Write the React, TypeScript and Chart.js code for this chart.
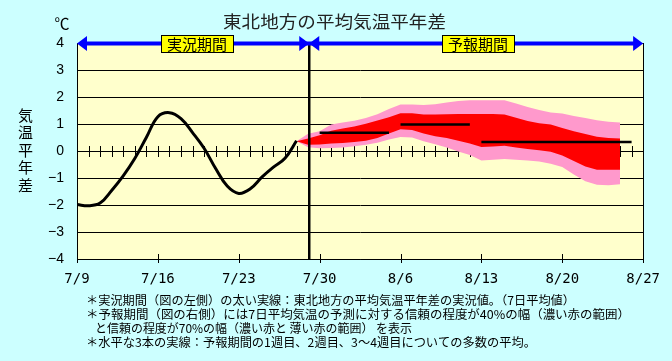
import React, { useEffect, useRef } from "react";
import { Chart, registerables } from "chart.js";

Chart.register(...registerables);

// ---- data ----
const xTickLabels = ["7/9", "7/16", "7/23", "7/30", "8/6", "8/13", "8/20", "8/27"];
const yTickValues = [-4, -3, -2, -1, 0, 1, 2, 3, 4];

// observed 7-day mean anomaly, daily from 7/9 (day 0) to 7/28 (day 19)
const obsDays = [0, 1, 2, 3, 4, 5, 6, 7, 8, 9, 10, 11, 12, 13, 14, 15, 16, 17, 18, 19];
const obsValues = [-1.98, -2.03, -1.93, -1.46, -0.92, -0.28, 0.5, 1.27, 1.42, 1.2, 0.68, 0.1, -0.65, -1.3, -1.57, -1.4, -0.97, -0.6, -0.27, 0.38];

// forecast bands, daily from 7/28 (day 19) to 8/25 (day 47)
const fcDays = [19, 20, 21, 22, 23, 24, 25, 26, 27, 28, 29, 30, 31, 32, 33, 34, 35, 36, 37, 38, 39, 40, 41, 42, 43, 44, 45, 46, 47];
const pinkHigh = [0.36, 0.64, 0.73, 0.98, 1.06, 1.12, 1.22, 1.36, 1.56, 1.72, 1.72, 1.7, 1.73, 1.8, 1.85, 1.88, 1.88, 1.88, 1.88, 1.76, 1.63, 1.52, 1.43, 1.39, 1.3, 1.22, 1.14, 1.08, 1.06];
const redHigh = [0.36, 0.46, 0.58, 0.75, 0.83, 0.91, 1.01, 1.13, 1.25, 1.4, 1.4, 1.35, 1.35, 1.36, 1.37, 1.37, 1.37, 1.37, 1.35, 1.23, 1.11, 1.03, 0.98, 0.85, 0.73, 0.63, 0.53, 0.48, 0.46];
const redLow = [0.36, 0.23, 0.24, 0.28, 0.3, 0.33, 0.38, 0.48, 0.65, 0.81, 0.78, 0.65, 0.55, 0.48, 0.38, 0.28, 0.15, 0.17, 0.19, 0.13, 0.07, 0.03, -0.03, -0.17, -0.37, -0.57, -0.69, -0.69, -0.69];
const pinkLow = [0.36, 0.14, 0.1, 0.11, 0.13, 0.18, 0.23, 0.31, 0.43, 0.52, 0.5, 0.36, 0.25, 0.13, -0.02, -0.15, -0.35, -0.32, -0.3, -0.32, -0.35, -0.39, -0.47, -0.59, -0.87, -1.12, -1.25, -1.27, -1.23];

// ensemble mean for week 1, week 2, weeks 3-4
const meanStart = [21, 28, 35];
const meanEnd = [27, 34, 48];
const meanValues = [0.68, 0.98, 0.33];

const splitDay = 20.1;
const periodLabels = ["実況期間", "予報期間"];
const titleText = "東北地方の平均気温平年差";
const unitText = "℃";
const yTitleChars = ["気", "温", "平", "年", "差"];
const noteLines = [
  "＊実況期間（図の左側）の太い実線：東北地方の平均気温平年差の実況値。（7日平均値）",
  "＊予報期間（図の右側）には7日平均気温の予測に対する信頼の程度が40%の幅（濃い赤の範囲）",
  "と信頼の程度が70%の幅（濃い赤と 薄い赤の範囲） を表示",
  "＊水平な3本の実線：予報期間の1週目、2週目、3～4週目についての多数の平均。",
];

const CJK = '"Noto Sans CJK JP", "Noto Sans", sans-serif';

const pts = (xs: number[], ys: number[]) => xs.map((x, i) => ({ x, y: ys[i] }));

const overlay = {
  id: "overlay",
  beforeDraw(chart: any) {
    const { ctx, chartArea: a, width, height } = chart;
    ctx.save();
    ctx.fillStyle = "#CCFFFF";
    ctx.fillRect(0, 0, width, height);
    ctx.fillStyle = "#FFFFCC";
    ctx.fillRect(a.left, a.top, a.right - a.left, a.bottom - a.top);
    ctx.restore();
  },
  beforeDatasetsDraw(chart: any) {
    const { ctx } = chart;
    const xs = chart.scales.x;
    const ys = chart.scales.y;
    const y0 = Math.round(ys.getPixelForValue(0));
    ctx.save();
    ctx.strokeStyle = "#000";
    ctx.lineWidth = 1;
    ctx.beginPath();
    for (let d = 1; d <= 48; d++) {
      const px = Math.round(xs.getPixelForValue(d)) + 0.5;
      ctx.moveTo(px, y0 - 5);
      ctx.lineTo(px, y0 + 6);
    }
    ctx.stroke();
    ctx.restore();
  },
  afterDatasetsDraw(chart: any) {
    const { ctx, chartArea: a } = chart;
    const xs = chart.scales.x;
    ctx.save();
    ctx.strokeStyle = "#000";
    ctx.lineWidth = 1;
    // right border
    ctx.beginPath();
    ctx.moveTo(Math.round(a.right) + 0.5, a.top);
    ctx.lineTo(Math.round(a.right) + 0.5, a.bottom + 4);
    // bottom ticks
    for (let d = 0; d <= 49; d += 7) {
      const px = Math.round(xs.getPixelForValue(d)) + 0.5;
      ctx.moveTo(px, a.bottom - 5);
      ctx.lineTo(px, a.bottom + 4);
    }
    ctx.stroke();
    // separator
    const sx = xs.getPixelForValue(splitDay);
    ctx.lineWidth = 2.5;
    ctx.beginPath();
    ctx.moveTo(sx, a.top);
    ctx.lineTo(sx, a.bottom);
    ctx.stroke();

    // blue arrows
    const yc = a.top + 0.5;
    const x0 = xs.getPixelForValue(0);
    const x1 = xs.getPixelForValue(49);
    ctx.strokeStyle = "#0000FF";
    ctx.fillStyle = "#0000FF";
    ctx.lineWidth = 4;
    ctx.beginPath();
    ctx.moveTo(x0 + 6, yc);
    ctx.lineTo(x1 - 6, yc);
    ctx.stroke();
    const head = (tip: number, dir: number) => {
      ctx.beginPath();
      ctx.moveTo(tip, yc);
      ctx.lineTo(tip - dir * 10, yc - 7.5);
      ctx.lineTo(tip - dir * 10, yc + 7.5);
      ctx.closePath();
      ctx.fill();
    };
    head(x0, -1);
    head(sx, 1);
    head(sx, -1);
    head(x1, 1);

    // period label boxes
    ctx.font = `15px ${CJK}`;
    ctx.textAlign = "center";
    ctx.textBaseline = "middle";
    const centers = [(x0 + sx) / 2 + 4, (sx + x1) / 2 + 2];
    periodLabels.forEach((t, i) => {
      const w = ctx.measureText(t).width + 12;
      const cx = Math.round(centers[i]);
      ctx.fillStyle = "#FFFF00";
      ctx.fillRect(cx - w / 2, 35, w, 17);
      ctx.strokeStyle = "#000";
      ctx.lineWidth = 1;
      ctx.strokeRect(Math.round(cx - w / 2) + 0.5, 35.5, Math.round(w), 17);
      ctx.fillStyle = "#000";
      ctx.fillText(t, cx, 44);
    });
    ctx.restore();
  },
  afterDraw(chart: any) {
    const { ctx } = chart;
    ctx.save();
    ctx.textBaseline = "middle";
    // title
    ctx.fillStyle = "#222";
    ctx.font = `17px ${CJK}`;
    ctx.textAlign = "left";
    const tw = ctx.measureText(titleText).width;
    ctx.save();
    ctx.translate(223, 22);
    ctx.scale(223 / tw, 1);
    ctx.fillText(titleText, 0, 0);
    ctx.restore();
    // unit
    ctx.fillStyle = "#000";
    ctx.textAlign = "center";
    ctx.font = `15px ${CJK}`;
    ctx.fillText(unitText, 62, 23);
    // y title
    ctx.font = `15px ${CJK}`;
    yTitleChars.forEach((c, i) => {
      ctx.fillText(c, 25.5, 115 + i * 17.5);
    });
    // notes
    ctx.textAlign = "left";
    ctx.font = `12px ${CJK}`;
    const starts = [86, 86, 95, 86];
    const ends = [575, 630, 412, 536];
    const ys = [300, 314, 328, 342];
    noteLines.forEach((t, i) => {
      const w = ctx.measureText(t).width;
      ctx.save();
      ctx.translate(starts[i], ys[i]);
      ctx.scale((ends[i] - starts[i]) / w, 1);
      ctx.fillText(t, 0, 0);
      ctx.restore();
    });
    ctx.restore();
  },
};

export default function App() {
  const canvasRef = useRef<HTMLCanvasElement | null>(null);

  useEffect(() => {
    document.body.style.margin = "0";
    const canvas = canvasRef.current;
    if (!canvas) return;
    const chart = new Chart(canvas, {
      type: "line",
      data: {
        datasets: [
          {
            label: "70% high",
            data: pts(fcDays, pinkHigh),
            fill: { target: 1 },
            backgroundColor: "#FF99CC",
            borderColor: "transparent",
            borderWidth: 0,
            pointRadius: 0,
            order: 10,
          },
          {
            label: "70% low",
            data: pts(fcDays, pinkLow),
            fill: false,
            borderColor: "transparent",
            borderWidth: 0,
            pointRadius: 0,
            order: 10,
          },
          {
            label: "40% high",
            data: pts(fcDays, redHigh),
            fill: { target: 3 },
            backgroundColor: "#FF0000",
            borderColor: "transparent",
            borderWidth: 0,
            pointRadius: 0,
            order: 5,
          },
          {
            label: "40% low",
            data: pts(fcDays, redLow),
            fill: false,
            borderColor: "transparent",
            borderWidth: 0,
            pointRadius: 0,
            order: 5,
          },
          {
            label: "observed",
            data: pts(obsDays, obsValues),
            fill: false,
            borderColor: "#000",
            borderWidth: 3,
            pointRadius: 0,
            tension: 0.4,
            order: 1,
          },
          ...meanValues.map((v, i) => ({
            label: `mean ${i + 1}`,
            data: [
              { x: meanStart[i], y: v },
              { x: meanEnd[i], y: v },
            ],
            fill: false,
            borderColor: "#000",
            borderWidth: 2.5,
            pointRadius: 0,
            order: 1,
          })),
        ],
      },
      options: {
        animation: false,
        responsive: false,
        devicePixelRatio: 1,
        layout: { padding: { left: 0, top: 43, right: 20, bottom: 0 } },
        plugins: {
          legend: { display: false },
          tooltip: { enabled: false },
          title: { display: false },
        },
        scales: {
          x: {
            type: "linear",
            min: 0,
            max: 49,
            afterFit: (s: any) => {
              s.height = 102;
            },
            grid: { display: false, drawTicks: false },
            border: { display: true, color: "#000", width: 1 },
            ticks: {
              stepSize: 7,
              autoSkip: false,
              maxRotation: 0,
              padding: 12,
              color: "#000",
              font: { family: '"DejaVu Sans Mono", monospace', size: 14 },
              callback: (v: any) => xTickLabels[Math.round(Number(v) / 7)] ?? "",
            },
          },
          y: {
            type: "linear",
            min: yTickValues[0],
            max: yTickValues[yTickValues.length - 1],
            afterFit: (s: any) => {
              s.width = 77;
            },
            grid: { color: "#000", lineWidth: 1, drawTicks: false },
            border: { display: true, color: "#000", width: 1 },
            ticks: {
              stepSize: 1,
              padding: 13,
              color: "#000",
              font: { family: '"Liberation Sans", Arial, sans-serif', size: 14 },
              callback: (v: any) => (Number(v) < 0 ? "−" + Math.abs(Number(v)) : String(v)),
            },
          },
        },
      },
      plugins: [overlay],
    });
    return () => chart.destroy();
  }, []);

  return (
    <div style={{ width: 672, height: 361 }}>
      <canvas ref={canvasRef} width={672} height={361} style={{ display: "block" }} />
    </div>
  );
}
